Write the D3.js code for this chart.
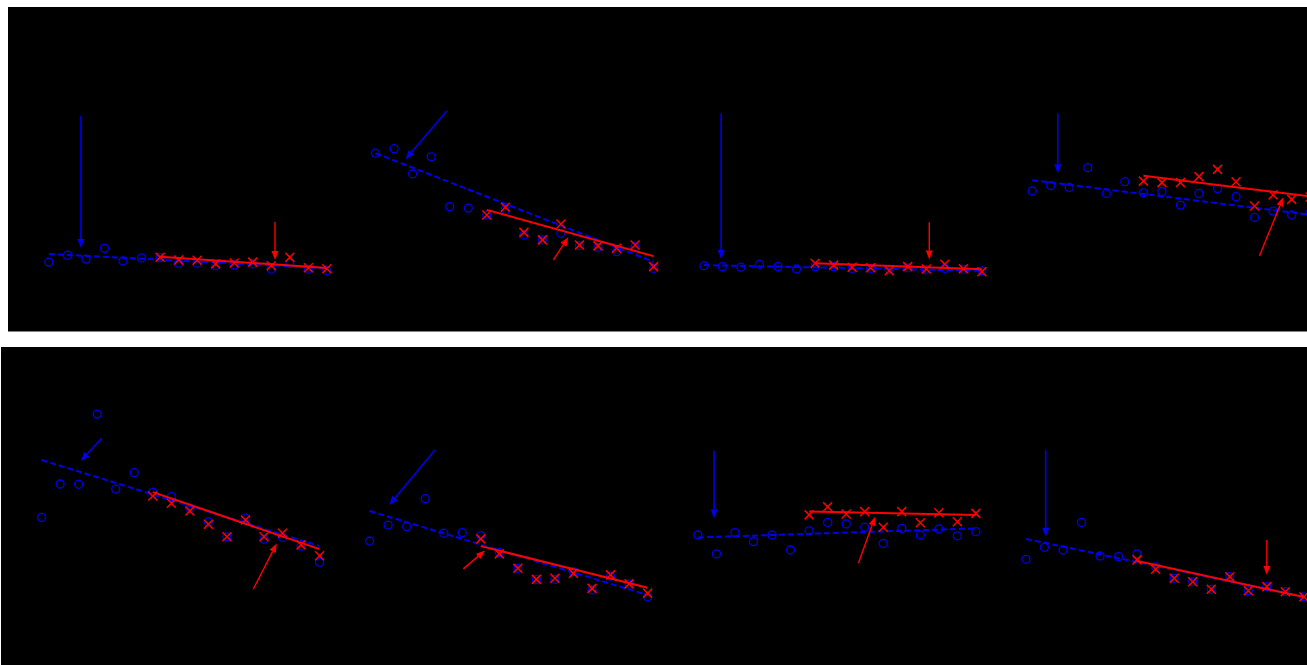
<!DOCTYPE html>
<html>
<head>
<meta charset="utf-8">
<script src="https://cdn.jsdelivr.net/npm/d3@7"></script>
<style>
  body { margin: 0; background: #fff; }
  svg { display: block; }
</style>
</head>
<body>
<svg></svg>
<script>
let width = 1307;
let height = 665;

// x positions are sample indices 0..15, red series covers indices 6..15
let idxAll = d3.range(16);
let idxLate = d3.range(6, 16);

// blue circles (all 16 samples), one row per panel
let blueVals = [
  [19.3, 21.6, 20.3, 23.9, 19.7, 20.7, 20.8, 18.9, 18.9, 18.1, 18.3, 18.7, 16.9, 18.9, 16.9, 16.4],
  [55.6, 57.1, 48.7, 54.4, 37.8, 37.3, 35.0, 36.7, 28.3, 26.7, 28.9, 24.8, 24.2, 22.8, 24.4, 17.2],
  [18.1, 17.8, 17.6, 18.6, 17.8, 17.0, 17.8, 17.8, 17.2, 17.2, 16.9, 17.4, 16.9, 17.2, 16.9, 16.4],
  [43.0, 44.8, 44.2, 50.8, 42.2, 46.1, 42.4, 42.8, 38.3, 42.2, 43.8, 41.1, 34.2, 36.3, 35.0, 35.7],
  [45.9, 57.0, 56.9, 80.3, 55.3, 60.8, 54.2, 52.8, 48.9, 44.4, 39.4, 45.6, 38.6, 39.2, 36.3, 30.9],
  [38.0, 43.3, 42.8, 52.1, 40.6, 40.8, 39.8, 34.2, 28.9, 25.2, 25.2, 27.8, 21.7, 26.3, 23.7, 19.4],
  [40.0, 33.7, 40.8, 37.8, 40.0, 35.0, 41.4, 44.2, 43.7, 42.6, 37.2, 42.2, 40.0, 42.0, 39.7, 41.1],
  [31.9, 35.9, 35.0, 44.2, 33.0, 32.8, 33.7, 29.4, 25.6, 24.4, 21.9, 26.1, 21.4, 22.8, 21.1, 19.4]
];

// red crosses (last 10 samples)
let redVals = [
  [20.9, 20.0, 19.9, 18.7, 19.0, 19.3, 18.1, 20.9, 17.4, 17.1],
  [35.0, 37.6, 29.2, 26.7, 32.0, 25.0, 24.7, 23.9, 25.0, 17.8],
  [18.9, 18.3, 17.6, 17.4, 16.4, 17.8, 17.0, 18.6, 17.1, 16.1],
  [46.3, 45.8, 45.8, 47.8, 50.2, 46.1, 38.0, 41.7, 40.2, 41.0],
  [53.0, 50.6, 48.0, 43.6, 39.4, 45.0, 39.4, 40.6, 36.7, 33.1],
  [38.7, 33.7, 28.9, 25.2, 25.6, 27.2, 22.2, 26.7, 23.7, 20.6],
  [46.7, 49.4, 47.0, 47.8, 42.6, 47.8, 44.1, 47.4, 44.4, 47.2],
  [31.7, 28.6, 25.6, 24.4, 21.9, 26.1, 21.4, 22.8, 21.1, 19.4]
];

// trend lines: value at start and end index
let blueFit = [
  [22.0, 17.3], [55.6, 19.4], [18.3, 16.4], [46.6, 35.1],
  [65.0, 36.3], [48.0, 20.0], [39.2, 42.2], [38.7, 19.4]
];
let redFit = [
  [21.1, 17.3], [36.7, 21.3], [18.9, 16.9], [48.1, 41.2],
  [54.3, 35.3], [36.3, 22.4], [47.8, 46.7], [31.3, 19.3]
];

// annotation arrows: [fromIdx, fromVal, toIdx, toVal]
let blueArrows = [
  [1.73, 68, 1.73, 24], [3.84, 69.7, 1.62, 53.6], [0.93, 68.9, 0.93, 20.3], [1.38, 68.9, 1.38, 48.9],
  [3.24, 72.2, 2.11, 64.7], [3.53, 68.3, 1.06, 50.0], [0.87, 68.1, 0.87, 45.6], [1.07, 68.3, 1.07, 39.4]
];
let redArrows = [
  [12.2, 32.7, 12.2, 20.0], [9.59, 20.0, 10.4, 27.6], [12.16, 32.6, 12.16, 20.2], [12.26, 21.3, 13.55, 40.9],
  [11.42, 21.9, 12.69, 37.2], [5.06, 28.7, 6.23, 34.8], [8.66, 30.6, 9.56, 46.1], [13.0, 38.3, 13.0, 26.7]
];

let blue = "#0000ee";
let red = "#ff0000";

// figure layout: two rows of four panels
let rows = [
  { x: 8, y: 7, w: 1299, h: 324.5, panelX: [48.9, 375.6, 703.9, 1032.2], yRange: [320, 20] },
  { x: 1, y: 347, w: 1306, h: 318, panelX: [41.6, 369.6, 697.9, 1025.9], yRange: [655, 355] }
];
let span = 278;

let svg = d3.select("svg").attr("width", width).attr("height", height);

function arrow(g, a, xScale, yScale, color, lw) {
  let x1 = xScale(a[0]), y1 = yScale(a[1]);
  let x2 = xScale(a[2]), y2 = yScale(a[3]);
  let ang = Math.atan2(y2 - y1, x2 - x1);
  let hl = 9, hw = 3.5;
  let bx = x2 - hl * Math.cos(ang), by = y2 - hl * Math.sin(ang);
  g.append("line")
    .attr("x1", x1).attr("y1", y1).attr("x2", bx).attr("y2", by)
    .attr("stroke", color).attr("stroke-width", lw);
  let px = -Math.sin(ang) * hw, py = Math.cos(ang) * hw;
  g.append("path")
    .attr("d", `M${x2},${y2}L${bx + px},${by + py}L${bx - px},${by - py}Z`)
    .attr("fill", color);
}

rows.forEach((row, r) => {
  let fig = svg.append("g");
  fig.append("rect")
    .attr("x", row.x).attr("y", row.y)
    .attr("width", row.w).attr("height", row.h)
    .attr("fill", "#000");

  let yScale = d3.scaleLinear().domain([0, 100]).range(row.yRange);

  row.panelX.forEach((px0, c) => {
    let p = r * 4 + c;
    let xScale = d3.scaleLinear().domain([0, 15]).range([px0, px0 + span]);
    let g = fig.append("g");

    // blue circles
    g.selectAll("circle")
      .data(blueVals[p])
      .enter()
      .append("circle")
      .attr("cx", (d, i) => xScale(idxAll[i]))
      .attr("cy", (d) => yScale(d))
      .attr("r", 4)
      .attr("fill", "none")
      .attr("stroke", blue)
      .attr("stroke-width", 1.3);

    // blue dashed trend
    g.append("line")
      .attr("x1", xScale(0)).attr("y1", yScale(blueFit[p][0]))
      .attr("x2", xScale(15)).attr("y2", yScale(blueFit[p][1]))
      .attr("stroke", blue)
      .attr("stroke-width", 2)
      .attr("stroke-dasharray", "6,3");

    // red crosses
    let s = 4.5;
    g.selectAll("path.cross")
      .data(redVals[p])
      .enter()
      .append("path")
      .attr("class", "cross")
      .attr("d", (d, i) => {
        let cx = xScale(idxLate[i]), cy = yScale(d);
        return `M${cx - s},${cy - s}L${cx + s},${cy + s}M${cx - s},${cy + s}L${cx + s},${cy - s}`;
      })
      .attr("stroke", red)
      .attr("stroke-width", 1.5)
      .attr("fill", "none");

    // red solid trend
    g.append("line")
      .attr("x1", xScale(6)).attr("y1", yScale(redFit[p][0]))
      .attr("x2", xScale(15)).attr("y2", yScale(redFit[p][1]))
      .attr("stroke", red)
      .attr("stroke-width", 2);

    arrow(g, blueArrows[p], xScale, yScale, blue, 1.6);
    arrow(g, redArrows[p], xScale, yScale, red, 1.4);
  });
});
</script>
</body>
</html>
